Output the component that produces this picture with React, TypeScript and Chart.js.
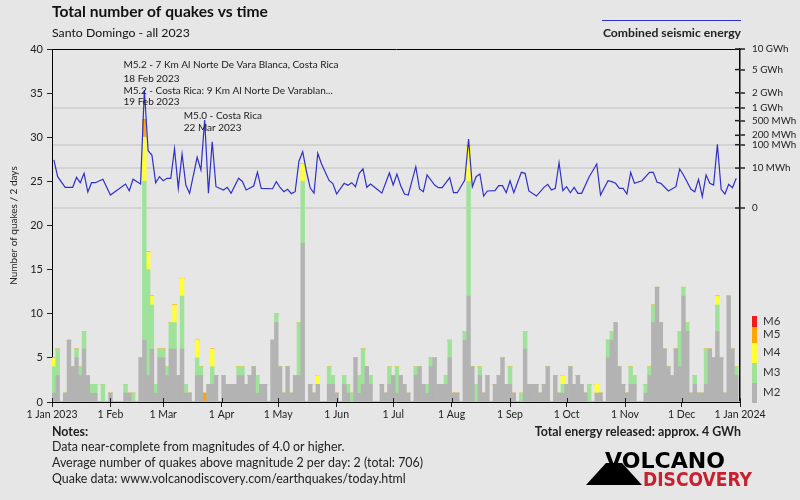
import React, { useEffect, useRef } from 'react';
import { Chart, registerables } from 'chart.js';

Chart.register(...registerables);

const FONT = 'Lato, "Open Sans", "DejaVu Sans", sans-serif';

// ---------- DATA ----------
const chartTitle = 'Total number of quakes vs time';
const chartSubtitle = 'Santo Domingo - all 2023';
const yAxisTitle = 'Number of quakes / 2 days';
const energyLegendLabel = 'Combined seismic energy';

// x axis ticks (day of year, 2023) and labels
const monthDays = [0, 31, 59, 90, 120, 151, 181, 212, 243, 273, 304, 334, 365];
const monthLabels = ['1 Jan 2023', '1 Feb', '1 Mar', '1 Apr', '1 May', '1 Jun', '1 Jul', '1 Aug', '1 Sep', '1 Oct', '1 Nov', '1 Dec', '1 Jan 2024'];
const BIN_DAYS = 2;

// right axis (energy, MWh)
const energyTickValues = [10000, 5000, 2000, 1000, 500, 200, 100, 10, 0];
const energyTickLabels = ['10 GWh', '5 GWh', '2 GWh', '1 GWh', '500 MWh', '200 MWh', '100 MWh', '10 MWh', '0'];
const energyGridValues = [1000, 100, 10, 0];

const magLabels = ['M2', 'M3', 'M4', 'M5', 'M6'];
const magColors = ['#b3b3b3', '#9fe39a', '#ffff33', '#ffa500', '#ee1c1c'];

// quakes per 2-day bin, by magnitude class (183 bins)
const m2 = [
  1, 3, 0, 1, 7, 4, 5, 3, 6, 3,
  1, 1, 0, 0, 0, 1, 0, 0, 0, 1,
  1, 0, 0, 5, 7, 3, 6, 1, 5, 5,
  3, 6, 6, 3, 6, 1, 1, 0, 3, 3,
  0, 2, 2, 3, 0, 3, 2, 2, 2, 3,
  3, 2, 3, 4, 1, 2, 2, 0, 7, 9,
  4, 1, 4, 1, 3, 3, 18, 0, 2, 1,
  2, 0, 0, 2, 2, 1, 0, 2, 1, 0,
  5, 1, 2, 4, 2, 0, 0, 2, 1, 2,
  3, 1, 3, 2, 1, 0, 3, 4, 2, 1,
  4, 5, 2, 2, 2, 5, 1, 1, 0, 7,
  12, 4, 0, 3, 1, 3, 0, 2, 3, 5,
  2, 2, 1, 0, 0, 6, 2, 2, 2, 1,
  2, 4, 0, 3, 1, 1, 2, 4, 2, 3,
  2, 1, 0, 0, 1, 1, 0, 5, 7, 9,
  4, 2, 1, 2, 2, 0, 0, 1, 3, 9,
  13, 9, 6, 4, 3, 6, 4, 12, 8, 1,
  2, 1, 1, 2, 6, 5, 8, 5, 1, 12,
  6, 3, 0,
];
const m3 = [
  3, 3, 0, 0, 0, 0, 1, 1, 2, 0,
  1, 1, 0, 2, 0, 0, 0, 0, 0, 1,
  0, 1, 0, 0, 18, 12, 5, 1, 1, 1,
  1, 3, 3, 0, 6, 1, 0, 0, 2, 1,
  0, 0, 2, 0, 0, 0, 0, 0, 0, 1,
  1, 0, 0, 0, 2, 0, 0, 0, 0, 1,
  0, 0, 0, 0, 0, 6, 7, 0, 0, 0,
  0, 0, 0, 2, 1, 0, 0, 1, 1, 1,
  0, 2, 4, 0, 1, 0, 0, 0, 0, 2,
  0, 3, 0, 0, 0, 0, 1, 0, 0, 1,
  1, 0, 0, 0, 1, 2, 0, 0, 0, 1,
  13, 0, 2, 1, 0, 0, 0, 0, 0, 0,
  0, 2, 0, 0, 1, 2, 0, 0, 0, 0,
  0, 0, 0, 0, 0, 1, 0, 0, 0, 0,
  0, 0, 2, 0, 0, 0, 0, 2, 1, 0,
  0, 0, 0, 2, 1, 0, 0, 1, 1, 2,
  0, 0, 0, 0, 0, 0, 4, 1, 1, 0,
  1, 0, 0, 4, 0, 0, 3, 0, 0, 0,
  0, 1, 0,
];
const m4 = [
  1, 0, 0, 0, 0, 0, 0, 0, 0, 0,
  0, 0, 0, 0, 0, 0, 0, 0, 0, 0,
  0, 0, 0, 0, 5, 2, 1, 0, 0, 0,
  0, 0, 2, 0, 2, 0, 0, 0, 2, 0,
  0, 0, 2, 0, 0, 0, 0, 0, 0, 0,
  0, 0, 0, 0, 0, 0, 0, 0, 0, 0,
  0, 0, 0, 0, 0, 0, 2, 0, 0, 0,
  1, 0, 0, 0, 0, 0, 0, 0, 0, 0,
  0, 0, 0, 0, 0, 0, 0, 0, 0, 0,
  0, 0, 0, 0, 0, 0, 0, 0, 0, 0,
  0, 0, 0, 0, 0, 0, 0, 0, 0, 0,
  4, 0, 0, 0, 0, 0, 0, 0, 0, 0,
  0, 0, 0, 0, 0, 0, 0, 0, 0, 0,
  0, 0, 0, 0, 0, 1, 0, 0, 0, 0,
  0, 0, 0, 0, 1, 0, 0, 0, 0, 0,
  0, 0, 0, 0, 0, 0, 0, 0, 0, 0,
  0, 0, 0, 0, 0, 0, 0, 0, 0, 0,
  0, 0, 0, 0, 0, 0, 1, 0, 0, 0,
  0, 0, 0,
];
const m5 = [
  0, 0, 0, 0, 0, 0, 0, 0, 0, 0,
  0, 0, 0, 0, 0, 0, 0, 0, 0, 0,
  0, 0, 0, 0, 2, 0, 0, 0, 0, 0,
  0, 0, 0, 0, 0, 0, 0, 0, 0, 0,
  1, 0, 0, 0, 0, 0, 0, 0, 0, 0,
  0, 0, 0, 0, 0, 0, 0, 0, 0, 0,
  0, 0, 0, 0, 0, 0, 0, 0, 0, 0,
  0, 0, 0, 0, 0, 0, 0, 0, 0, 0,
  0, 0, 0, 0, 0, 0, 0, 0, 0, 0,
  0, 0, 0, 0, 0, 0, 0, 0, 0, 0,
  0, 0, 0, 0, 0, 0, 0, 0, 0, 0,
  0, 0, 0, 0, 0, 0, 0, 0, 0, 0,
  0, 0, 0, 0, 0, 0, 0, 0, 0, 0,
  0, 0, 0, 0, 0, 0, 0, 0, 0, 0,
  0, 0, 0, 0, 0, 0, 0, 0, 0, 0,
  0, 0, 0, 0, 0, 0, 0, 0, 0, 0,
  0, 0, 0, 0, 0, 0, 0, 0, 0, 0,
  0, 0, 0, 0, 0, 0, 0, 0, 0, 0,
  0, 0, 0,
];
const m6 = [
  0, 0, 0, 0, 0, 0, 0, 0, 0, 0,
  0, 0, 0, 0, 0, 0, 0, 0, 0, 0,
  0, 0, 0, 0, 0, 0, 0, 0, 0, 0,
  0, 0, 0, 0, 0, 0, 0, 0, 0, 0,
  0, 0, 0, 0, 0, 0, 0, 0, 0, 0,
  0, 0, 0, 0, 0, 0, 0, 0, 0, 0,
  0, 0, 0, 0, 0, 0, 0, 0, 0, 0,
  0, 0, 0, 0, 0, 0, 0, 0, 0, 0,
  0, 0, 0, 0, 0, 0, 0, 0, 0, 0,
  0, 0, 0, 0, 0, 0, 0, 0, 0, 0,
  0, 0, 0, 0, 0, 0, 0, 0, 0, 0,
  0, 0, 0, 0, 0, 0, 0, 0, 0, 0,
  0, 0, 0, 0, 0, 0, 0, 0, 0, 0,
  0, 0, 0, 0, 0, 0, 0, 0, 0, 0,
  0, 0, 0, 0, 0, 0, 0, 0, 0, 0,
  0, 0, 0, 0, 0, 0, 0, 0, 0, 0,
  0, 0, 0, 0, 0, 0, 0, 0, 0, 0,
  0, 0, 0, 0, 0, 0, 0, 0, 0, 0,
  0, 0, 0,
];

// combined seismic energy per 2-day bin, MWh (null = no vertex, line spans across)
const energyMWh = [
  25.1, 2.96, null, 0.373, null, 0.373, 2.68, 1.02, 4.95, 0.103,
  1.02, 1.02, null, 1.92, null, 0.037, null, null, null, 0.782,
  0.153, 1.92, null, 0.782, 2252, 60.8, 41.1, 1.02, 2.96, 1.49,
  2.28, 2.28, 72.1, 0.292, 45, 0.634, 0.067, null, 33, 7.8,
  519, 0.067, 126, 0.431, null, 0.186, 0.373, 0.067, null, 2.3,
  1.3, 0.186, null, 0.507, 5.8, 0.292, null, null, 0.26, 1.24,
  0.36, 0.113, 0.225, 0.06, 0.113, 22, 55.6, 6.37, 0.31, 0.072,
  48.2, 16.2, null, 1.55, 0.86, 0.053, null, 0.904, 0.6, 1.02,
  0.431, 4.95, 9.1, 0.373, 0.78, null, 0.186, 0.072, null, 5.2,
  0.634, 4.4, 0.543, 0.053, 0.037, null, 11.8, 0.244, 0.113, 3.86,
  null, 0.634, 0.34, 0.34, null, 2.51, 0.082, 0.082, null, 1.69,
  154, 0.431, 2.96, 4.47, 0.024, 0.14, null, 0.153, 0.543, 0.543,
  0.082, 1.49, 0.082, null, 5.71, 4.95, 0.14, null, 0.024, null,
  0.373, 0.734, 0.186, 0.292, 18.8, 0.153, 0.431, 0.082, 0.373, 0.067,
  0.067, null, 2.96, null, 16.2, 0.037, null, 1.49, 1.24, 0.904,
  0.292, 0.292, 0.053, 5.71, 0.904, null, 1.49, null, 5.71, 5.71,
  1.1, 0.904, null, 0.14, null, 0.431, 8.88, 3.86, null, 0.225,
  0.113, 1.92, 0.018, 3.86, 0.904, 0.634, 103, 0.225, 0.053, 0.734,
  0.34, 2.28, null,
];

// annotated events: day of year and text lines
const eventDays = [48, 80];
const eventTexts = [
  ['M5.2 - 7 Km Al Norte De Vara Blanca, Costa Rica', '18 Feb 2023', 'M5.2 - Costa Rica: 9 Km Al Norte De Varablan...', '19 Feb 2023'],
  ['M5.0 - Costa Rica', '22 Mar 2023'],
];

const notesTitle = 'Notes:';
const notesLines = [
  'Data near-complete from magnitudes of 4.0 or higher.',
  'Average number of quakes above magnitude 2 per day: 2 (total: 706)',
  'Quake data: www.volcanodiscovery.com/earthquakes/today.html',
];
const totalEnergyText = 'Total energy released: approx. 4 GWh';

// ---------- helpers ----------
const ENERGY_POW = 0.2;
const toEnergyAxis = (e: number) => Math.pow(e, ENERGY_POW);

function fitText(ctx: CanvasRenderingContext2D, text: string, x: number, y: number, w: number, font: string, color: string) {
  ctx.save();
  ctx.font = font;
  ctx.fillStyle = color;
  ctx.textAlign = 'left';
  ctx.textBaseline = 'alphabetic';
  const m = ctx.measureText(text).width;
  ctx.translate(x, y);
  ctx.scale(w / m, 1);
  ctx.fillText(text, 0, 0);
  ctx.restore();
}

const decorPlugin = {
  id: 'decor',
  beforeDraw(chart: any) {
    const { ctx, width, height } = chart;
    ctx.save();
    ctx.fillStyle = '#e6e6e6';
    ctx.fillRect(0, 0, width, height);
    ctx.restore();
  },
  afterDraw(chart: any) {
    const { ctx, chartArea: ca, scales } = chart;
    const xs = scales.x;
    const y2 = scales.y2;
    ctx.save();

    // top frame line
    ctx.strokeStyle = '#000';
    ctx.lineWidth = 1;
    ctx.beginPath();
    ctx.moveTo(ca.left, Math.round(ca.top) + 0.5);
    ctx.lineTo(ca.right + 1, Math.round(ca.top) + 0.5);
    ctx.stroke();

    // inner halves of crossing ticks
    ctx.strokeStyle = '#222';
    ctx.lineWidth = 1;
    xs.ticks.forEach((t: any) => {
      const px = Math.round(xs.getPixelForValue(t.value)) + 0.5;
      ctx.beginPath();
      ctx.moveTo(px, ca.bottom);
      ctx.lineTo(px, ca.bottom - 4);
      ctx.stroke();
    });
    ctx.lineWidth = 1.5;
    y2.ticks.forEach((t: any) => {
      const py = y2.getPixelForValue(t.value);
      ctx.beginPath();
      ctx.moveTo(ca.right - 5, py);
      ctx.lineTo(ca.right, py);
      ctx.stroke();
    });

    // titles
    ctx.fillStyle = '#111';
    ctx.textAlign = 'left';
    ctx.textBaseline = 'alphabetic';
    ctx.font = `bold 15.6px ${FONT}`;
    ctx.fillText(chartTitle, 52, 17);
    ctx.font = `12.3px ${FONT}`;
    ctx.fillText(chartSubtitle, 52, 37);

    // energy legend
    ctx.strokeStyle = '#3030c8';
    ctx.lineWidth = 1;
    ctx.beginPath();
    ctx.moveTo(602, 20.5);
    ctx.lineTo(741, 20.5);
    ctx.stroke();
    ctx.textAlign = 'right';
    ctx.font = `bold 12.2px ${FONT}`;
    ctx.fillStyle = '#222';
    ctx.fillText(energyLegendLabel, 741, 37);

    // event annotations
    ctx.textAlign = 'left';
    ctx.font = `10px ${FONT}`;
    ctx.fillStyle = '#1a1a1a';
    const annBaselines = [[68, 81.5, 93.5, 105], [118.5, 130.5]];
    eventDays.forEach((d, k) => {
      const px = xs.getPixelForValue(d) - 19;
      eventTexts[k].forEach((line, j) => ctx.fillText(line, px, annBaselines[k][j]));
    });

    // magnitude legend
    const boxX = 752;
    const boxW = 5;
    const boxTops = [383, 363, 343, 327, 316];
    const boxBottoms = [403, 383, 363, 343, 327];
    const labelY = [396, 376, 356, 338, 325];
    ctx.font = `11.5px ${FONT}`;
    magLabels.forEach((lab, k) => {
      ctx.fillStyle = magColors[k];
      ctx.fillRect(boxX, boxTops[k], boxW, boxBottoms[k] - boxTops[k]);
      ctx.fillStyle = '#333';
      ctx.fillText(lab, 763, labelY[k]);
    });

    // notes
    ctx.fillStyle = '#222';
    ctx.font = `bold 12.4px ${FONT}`;
    ctx.fillText(notesTitle, 52, 436);
    ctx.font = `12.4px ${FONT}`;
    const noteY = [451, 467, 483];
    notesLines.forEach((l, i) => ctx.fillText(l, 52, noteY[i]));
    ctx.textAlign = 'right';
    ctx.font = `bold 12.4px ${FONT}`;
    ctx.fillText(totalEnergyText, 741, 436);

    // logo
    ctx.fillStyle = '#000';
    ctx.beginPath();
    ctx.moveTo(586, 485);
    ctx.lineTo(606, 463);
    ctx.lineTo(622, 463);
    ctx.lineTo(642, 485);
    ctx.closePath();
    ctx.fill();
    const logoFont = '"Liberation Sans Narrow", "DejaVu Sans Condensed", "Liberation Sans", sans-serif';
    fitText(ctx, 'VOLCANO', 605, 468, 120, `bold 21px ${logoFont}`, '#000');
    fitText(ctx, 'DISCOVERY', 643, 486, 109, `bold 19px ${logoFont}`, '#c8202f');

    ctx.restore();
  },
};

export default function App() {
  const canvasRef = useRef<HTMLCanvasElement | null>(null);

  useEffect(() => {
    const canvas = canvasRef.current;
    if (!canvas) return;
    const binCenters = m2.map((_, i) => i * BIN_DAYS + BIN_DAYS / 2);
    const series = [m2, m3, m4, m5, m6];
    const barSets = series.map((arr, k) => ({
      type: 'bar' as const,
      label: magLabels[k],
      data: arr.map((v, i) => ({ x: binCenters[i], y: v })),
      backgroundColor: magColors[k],
      borderWidth: 0,
      barPercentage: 1,
      categoryPercentage: 1,
      xAxisID: 'x',
      yAxisID: 'y',
      stack: 'quakes',
      order: 2,
    }));
    const lineSet = {
      type: 'line' as const,
      label: energyLegendLabel,
      data: energyMWh.map((e, i) => ({ x: binCenters[i], y: e == null ? null : toEnergyAxis(e) })),
      borderColor: '#3030c8',
      borderWidth: 1.2,
      pointRadius: 0,
      spanGaps: true,
      tension: 0,
      fill: false,
      xAxisID: 'x',
      yAxisID: 'y2',
      order: 0,
    };

    const y2Top = toEnergyAxis(energyTickValues[0]);
    const y2Min = -y2Top * (194 / 159);

    const chart = new Chart(canvas, {
      type: 'bar',
      data: { datasets: [...barSets, lineSet] as any },
      options: {
        responsive: false,
        animation: false,
        devicePixelRatio: 1,
        layout: { padding: { top: 49, left: 0, right: 0, bottom: 0 } },
        plugins: { legend: { display: false }, tooltip: { enabled: false }, title: { display: false } },
        scales: {
          x: {
            type: 'linear',
            position: 'bottom',
            min: monthDays[0],
            max: monthDays[monthDays.length - 1],
            stacked: true,
            offset: false,
            afterFit: (s: any) => { s.height = 98; },
            afterBuildTicks: (s: any) => { s.ticks = monthDays.map((v) => ({ value: v })); },
            ticks: {
              autoSkip: false,
              maxRotation: 0,
              minRotation: 0,
              padding: 1,
              color: '#222',
              font: { family: FONT, size: 10.5 },
              callback: (_v: any, i: number) => monthLabels[i],
            },
            grid: { drawOnChartArea: false, offset: false, tickLength: 5, color: '#222', tickColor: '#222' },
            border: { display: true, color: '#000', width: 1 },
          },
          y: {
            type: 'linear',
            position: 'left',
            min: 0,
            max: 40,
            stacked: true,
            afterFit: (s: any) => { s.width = 52; },
            ticks: { stepSize: 5, padding: 4, color: '#222', font: { family: FONT, size: 11 } },
            grid: { drawOnChartArea: false, tickLength: 5, color: '#222', tickColor: '#222' },
            border: { display: true, color: '#000', width: 1 },
            title: { display: true, text: yAxisTitle, color: '#222', font: { family: FONT, size: 10 }, padding: { top: 8, bottom: 0 } },
          },
          y2: {
            type: 'linear',
            position: 'right',
            min: y2Min,
            max: y2Top,
            afterFit: (s: any) => { s.width = 60; },
            afterBuildTicks: (s: any) => { s.ticks = energyTickValues.map((e) => ({ value: toEnergyAxis(e) })); },
            ticks: {
              autoSkip: false,
              padding: 7,
              color: '#222',
              font: { family: FONT, size: 9.8 },
              callback: (_v: any, i: number) => energyTickLabels[i],
            },
            grid: {
              drawOnChartArea: true,
              tickLength: 5,
              lineWidth: 2,
              color: (c: any) => (energyGridValues.includes(energyTickValues[c.index]) ? '#d3d3d3' : 'rgba(0,0,0,0)'),
              tickColor: '#222',
              tickWidth: 1.5,
            },
            border: { display: true, color: '#000', width: 1.5 },
          },
        },
      } as any,
      plugins: [decorPlugin],
    });
    return () => chart.destroy();
  }, []);

  return (
    <div style={{ position: 'absolute', left: 0, top: 0, width: 800, height: 500 }}>
      <canvas ref={canvasRef} width={800} height={500} style={{ display: 'block' }} />
    </div>
  );
}
